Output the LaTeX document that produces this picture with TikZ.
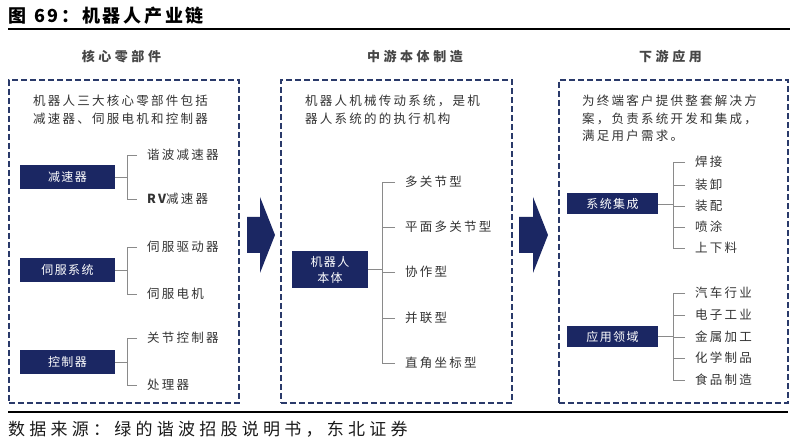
\documentclass[tikz,border=0pt]{standalone}
\usepackage{fontspec}
\setmainfont{Noto Sans CJK SC}
\newfontfamily\bodyf[LetterSpace=18]{Noto Sans CJK SC}
\newfontfamily\headf[LetterSpace=27]{Noto Sans CJK SC}
\newfontfamily\titlef[LetterSpace=15]{Noto Sans CJK SC}
\newfontfamily\srcf[LetterSpace=25]{Noto Sans CJK SC}
\newfontfamily\boxf[LetterSpace=12]{Noto Sans CJK SC}
\definecolor{navy}{HTML}{1B2763}
\definecolor{dashc}{HTML}{2A3A6A}
\definecolor{txt}{HTML}{333333}
\definecolor{brc}{HTML}{8A8A8A}
\begin{document}
\begin{tikzpicture}[x=1pt,y=-1pt,
  dbox/.style={draw=dashc, line width=1.8pt, dash pattern=on 6pt off 3pt, inner sep=0, anchor=north west},
  nbox/.style={fill=navy, text=white, inner sep=0, align=center, font=\boxf\fontsize{12}{15}\selectfont},
  item/.style={anchor=west, inner sep=0, text=txt, font=\bodyf\fontsize{12.5}{15}\selectfont},
  intro/.style={anchor=north west, inner sep=0, text=txt, align=left, font=\bodyf\fontsize{12.5}{17.5}\selectfont},
  head/.style={inner sep=0, text=txt!90, font=\headf\bfseries\fontsize{13}{15}\selectfont},
  br/.style={draw=brc, line width=0.9pt},
  bigarrow/.style={fill=navy}
]
\useasboundingbox (0,0) rectangle (797,443);
% title
\node[anchor=west, inner sep=0, font=\titlef\bfseries\fontsize{18}{20}\selectfont] (title) at (8,16) {图\hspace{8pt}69：机器人产业链};
\coordinate (tl1) at (8,29);
\coordinate (tl2) at (790,29);
\draw[line width=1.5pt] (tl1) -- (tl2);
% headings
\node[head] (h1) at (121.5,57) {核心零部件};
\node[head] (h2) at (415,57) {中游本体制造};
\node[head] (h3) at (670.5,57) {下游应用};
% dashed boxes
\node[dbox, minimum width=230pt, minimum height=323pt] (L) at (8,79) {};
\node[dbox, minimum width=231pt, minimum height=323pt] (M) at (280,79) {};
\node[dbox, minimum width=229pt, minimum height=323pt] (R) at (558,79) {};
% arrows
\fill[bigarrow] (247,217) -- (260,217) -- (260,197) -- (275,235) -- (260,273) -- (260,253) -- (247,253) -- cycle;
\fill[bigarrow] (519,217) -- (533,217) -- (533,197) -- (548,235) -- (533,273) -- (533,253) -- (519,253) -- cycle;
% ---------- left column
\node[intro] (Lt) at (33,95) {机器人三大核心零部件包括\\减速器、伺服电机和控制器};
\node[nbox, minimum width=95pt, minimum height=24pt] (b1) at (67.5,177) {减速器};
\node[item] (a1) at (147,155) {谐波减速器};
\node[item] (a2) at (147,199) {{\bfseries RV}减速器};
\node[nbox, minimum width=95pt, minimum height=24pt] (b2) at (67.5,270) {伺服系统};
\node[item] (a3) at (147,247) {伺服驱动器};
\node[item] (a4) at (147,294) {伺服电机};
\node[nbox, minimum width=95pt, minimum height=24pt] (b3) at (67.5,362) {控制器};
\node[item] (a5) at (147,338) {关节控制器};
\node[item] (a6) at (147,385) {处理器};
\foreach \b/\u/\v in {b1/a1/a2, b2/a3/a4, b3/a5/a6}{
  \draw[br] ([xshift=-10pt]\u.west) -- ([xshift=-20pt]\u.west) -- ([xshift=-20pt]\v.west) -- ([xshift=-10pt]\v.west);
  \draw[br] (\b.east) -- ([xshift=-20pt]\u.west |- \b.east);
}
% ---------- middle column
\node[intro] (Mt) at (305,95) {机器人机械传动系统，是机\\器人系统的的执行机构};
\node[nbox, minimum width=76pt, minimum height=37pt, font=\boxf\fontsize{12}{16}\selectfont] (m0) at (330,269.5) {机器人\\本体};
\node[item] (m1) at (405,182) {多关节型};
\node[item] (m2) at (405,227) {平面多关节型};
\node[item] (m3) at (405,272) {协作型};
\node[item] (m4) at (405,318) {并联型};
\node[item] (m5) at (405,363) {直角坐标型};
\draw[br] ([xshift=-10pt]m1.west) -- ([xshift=-23pt]m1.west) -- ([xshift=-23pt]m5.west) -- ([xshift=-10pt]m5.west);
\foreach \m in {m2,m3,m4}{
  \draw[br] ([xshift=-10pt]\m.west) -- ([xshift=-23pt]\m.west);
}
\draw[br] (m0.east) -- ([xshift=-23pt]m1.west |- m0.east);
% ---------- right column
\node[intro] (Rt) at (582,95) {为终端客户提供整套解决方\\案，负责系统开发和集成，\\满足用户需求。};
\node[nbox, minimum width=91pt, minimum height=21pt] (r0) at (612.5,204) {系统集成};
\node[item] (r1) at (695,162) {焊接};
\node[item] (r2) at (695,185) {装卸};
\node[item] (r3) at (695,206) {装配};
\node[item] (r4) at (695,227) {喷涂};
\node[item] (r5) at (695,248) {上下料};
\draw[br] ([xshift=-10pt]r1.west) -- ([xshift=-22pt]r1.west) -- ([xshift=-22pt]r5.west) -- ([xshift=-10pt]r5.west);
\foreach \m in {r2,r3,r4}{
  \draw[br] ([xshift=-10pt]\m.west) -- ([xshift=-22pt]\m.west);
}
\draw[br] (r0.east) -- ([xshift=-22pt]r1.west |- r0.east);
\node[nbox, minimum width=91pt, minimum height=21pt] (s0) at (612.5,336.5) {应用领域};
\node[item] (s1) at (695,293) {汽车行业};
\node[item] (s2) at (695,315) {电子工业};
\node[item] (s3) at (695,337) {金属加工};
\node[item] (s4) at (695,358) {化学制品};
\node[item] (s5) at (695,380) {食品制造};
\draw[br] ([xshift=-10pt]s1.west) -- ([xshift=-22pt]s1.west) -- ([xshift=-22pt]s5.west) -- ([xshift=-10pt]s5.west);
\foreach \m in {s2,s3,s4}{
  \draw[br] ([xshift=-10pt]\m.west) -- ([xshift=-22pt]\m.west);
}
\draw[br] (s0.east) -- ([xshift=-22pt]s1.west |- s0.east);
% bottom rule and source
\coordinate (bl1) at (8,412);
\coordinate (bl2) at (788,412);
\draw[line width=1.5pt] (bl1) -- (bl2);
\node[anchor=west, inner sep=0, text=black!90, font=\srcf\fontsize{17}{19}\selectfont] (src) at (8,429) {数据来源：绿的谐波招股说明书，东北证券};
\end{tikzpicture}
\end{document}
